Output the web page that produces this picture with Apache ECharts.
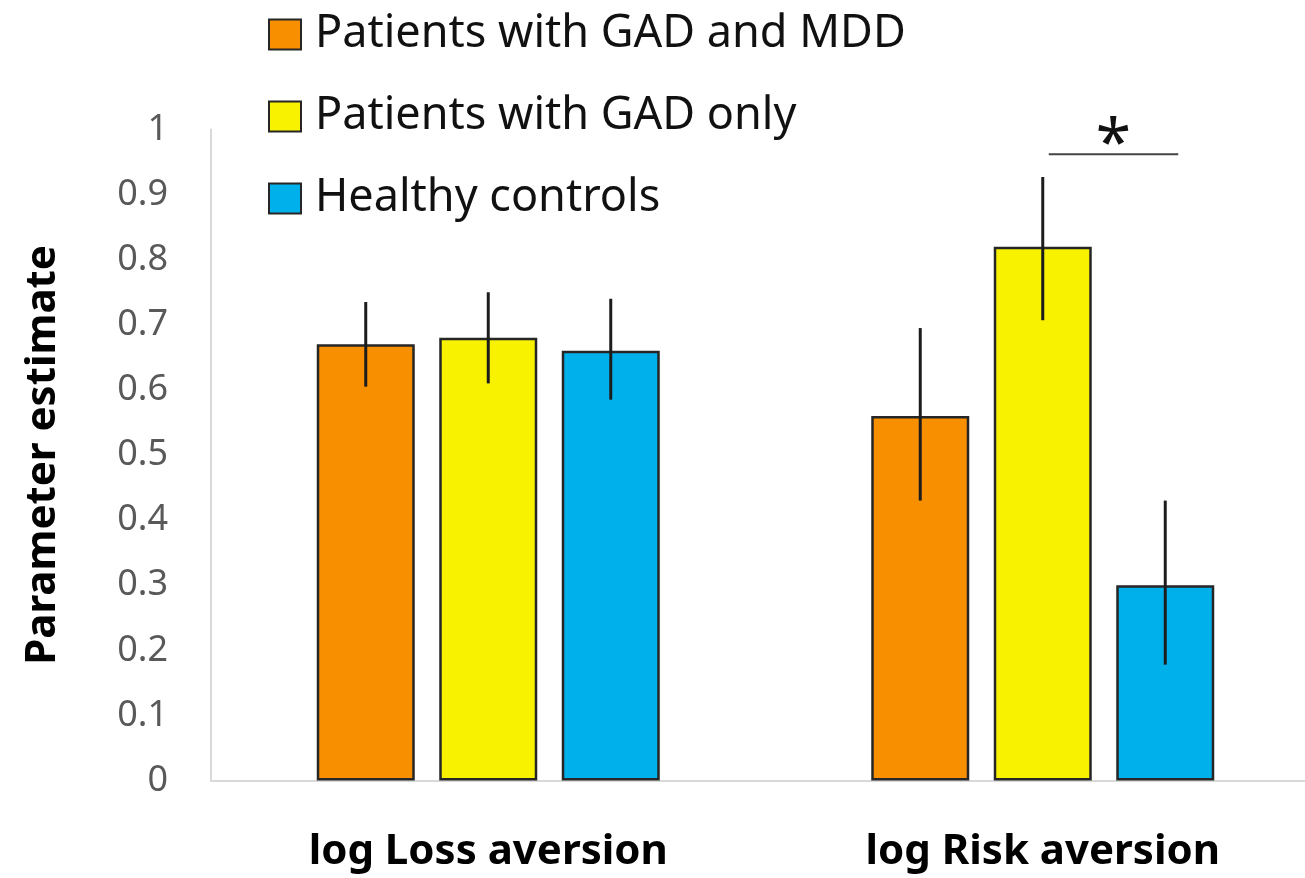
<!DOCTYPE html>
<html>
<head>
<meta charset="utf-8">
<title>Parameter estimates by group</title>
<script src="https://cdn.jsdelivr.net/npm/echarts@6/dist/echarts.min.js"></script>
<style>
  html, body { margin: 0; padding: 0; background: #ffffff; }
  #chart { width: 1305px; height: 878px; }
</style>
</head>
<body>
<div id="chart"></div>
<script>
// Measures on the x axis
const categories = ['log Loss aversion', 'log Risk aversion'];

// Groups (legend order)
const groupNames = ['Patients with GAD and MDD', 'Patients with GAD only', 'Healthy controls'];

// Mean parameter estimates per group, one value per measure
const gadMddMeans = [0.67, 0.56];
const gadOnlyMeans = [0.68, 0.82];
const controlMeans = [0.66, 0.30];

// Error bar ends (low / high) per group, one value per measure
const gadMddLow = [0.605, 0.43];
const gadMddHigh = [0.735, 0.695];
const gadOnlyLow = [0.61, 0.707];
const gadOnlyHigh = [0.75, 0.927];
const controlLow = [0.585, 0.178];
const controlHigh = [0.74, 0.43];

// Y axis ticks
const yTicks = [0, 0.1, 0.2, 0.3, 0.4, 0.5, 0.6, 0.7, 0.8, 0.9, 1];

// Significance marker: measure index, the two compared groups, bracket height
const sigMeasure = 1;
const sigGroups = [1, 2];
const sigLevel = 0.962;
const sigLabel = '*';

// Style
const colors = ['#F88F00', '#F8F200', '#00B0EA'];
const BAR_W = 98;
const BAR_GAP = 0.25;
const FONT = '"Noto Sans", "Open Sans", sans-serif';

const groupMeans = [gadMddMeans, gadOnlyMeans, controlMeans];
const groupLow = [gadMddLow, gadOnlyLow, controlLow];
const groupHigh = [gadMddHigh, gadOnlyHigh, controlHigh];

// Offset of a bar's centre from the category centre, for group index g
function groupOffset(g) {
  return (g - (groupNames.length - 1) / 2) * BAR_W * (1 + BAR_GAP);
}

const errorData = [];
groupNames.forEach(function (name, g) {
  categories.forEach(function (c, i) {
    errorData.push([i, g, groupLow[g][i], groupHigh[g][i]]);
  });
});

const barSeries = groupNames.map(function (name, g) {
  return {
    name: name,
    type: 'bar',
    data: groupMeans[g],
    barWidth: BAR_W,
    barGap: (BAR_GAP * 100) + '%',
    itemStyle: {
      color: colors[g],
      borderColor: '#262626',
      borderWidth: 2.5
    },
    emphasis: { disabled: true },
    z: 2
  };
});

const chart = echarts.init(document.getElementById('chart'), null, { renderer: 'canvas' });

chart.setOption({
  animation: false,
  backgroundColor: '#ffffff',
  textStyle: { fontFamily: FONT },
  grid: {
    left: 211, width: 1109, top: 129.5, bottom: 97.5,
    containLabel: false,
    outerBoundsMode: 'none'
  },
  legend: {
    data: groupNames,
    orient: 'vertical',
    left: 268,
    top: 12,
    padding: 0,
    itemWidth: 32,
    itemHeight: 30,
    itemGap: 37,
    icon: 'rect',
    selectedMode: false,
    textStyle: {
      fontFamily: FONT,
      fontSize: 45,
      lineHeight: 44,
      color: '#111111',
      padding: [0, 0, 0, 9]
    }
  },
  xAxis: {
    type: 'category',
    data: categories,
    axisLine: { show: true, lineStyle: { color: '#d9d9d9', width: 2 } },
    axisTick: { show: false },
    axisLabel: {
      margin: 51,
      fontFamily: FONT,
      fontSize: 42,
      fontWeight: 'bold',
      color: '#000000'
    },
    splitLine: { show: false }
  },
  yAxis: {
    type: 'value',
    min: yTicks[0],
    max: yTicks[yTicks.length - 1],
    interval: 0.1,
    name: 'Parameter estimate',
    nameLocation: 'middle',
    nameGap: 147,
    nameRotate: 90,
    nameTextStyle: {
      fontFamily: FONT,
      fontSize: 42,
      fontWeight: 'bold',
      color: '#000000'
    },
    axisLine: { show: true, lineStyle: { color: '#d9d9d9', width: 2 } },
    axisTick: { show: false },
    splitLine: { show: false },
    axisLabel: {
      margin: 43,
      fontFamily: FONT,
      fontSize: 36,
      color: '#595959',
      formatter: function (v) { return String(Math.round(v * 10) / 10); }
    }
  },
  series: barSeries.concat([
    {
      name: 'error bars',
      type: 'custom',
      data: errorData,
      encode: { x: 0, y: [2, 3] },
      z: 5,
      silent: true,
      renderItem: function (params, api) {
        const cat = api.value(0);
        const g = api.value(1);
        const lo = api.coord([cat, api.value(2)]);
        const hi = api.coord([cat, api.value(3)]);
        const x = lo[0] + groupOffset(g);
        return {
          type: 'line',
          shape: { x1: x, y1: lo[1], x2: x, y2: hi[1] },
          style: { stroke: '#1c1c1c', lineWidth: 3 }
        };
      }
    },
    {
      name: 'significance',
      type: 'custom',
      data: [[sigMeasure, sigLevel]],
      encode: { x: 0, y: 1 },
      z: 5,
      silent: true,
      renderItem: function (params, api) {
        const p = api.coord([api.value(0), api.value(1)]);
        const x1 = p[0] + groupOffset(sigGroups[0]) + 6;
        const x2 = p[0] + groupOffset(sigGroups[1]) + 13;
        return {
          type: 'group',
          children: [
            {
              type: 'line',
              shape: { x1: x1, y1: p[1], x2: x2, y2: p[1] },
              style: { stroke: '#444444', lineWidth: 2 }
            },
            {
              type: 'text',
              style: {
                text: sigLabel,
                x: (x1 + x2) / 2,
                y: p[1] + 25,
                align: 'center',
                verticalAlign: 'bottom',
                font: '64px ' + FONT,
                fill: '#111111'
              }
            }
          ]
        };
      }
    }
  ])
});
</script>
</body>
</html>
